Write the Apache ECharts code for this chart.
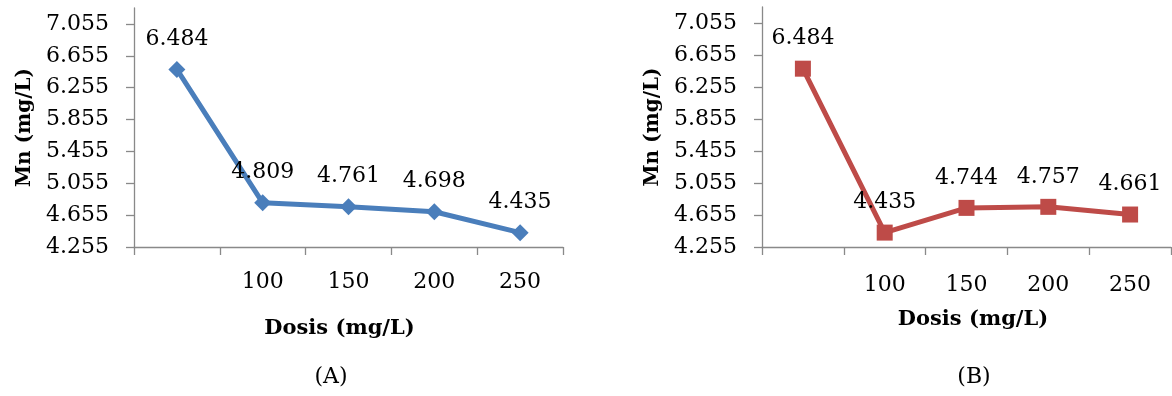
<!DOCTYPE html>
<html>
<head>
<meta charset="utf-8">
<script src="https://cdn.jsdelivr.net/npm/echarts@6/dist/echarts.min.js"></script>
<style>html,body{margin:0;padding:0;background:#fff}#c{width:1172px;height:396px}</style>
</head>
<body>
<div id="c"></div>
<script>
const categories = ['', '100', '150', '200', '250'];
const seriesA = [6.484, 4.809, 4.761, 4.698, 4.435];
const seriesB = [6.484, 4.435, 4.744, 4.757, 4.661];
const yTickLabels = ['4.255', '4.655', '5.055', '5.455', '5.855', '6.255', '6.655', '7.055'];
const yMin = 4.255, yMax = 7.255;
const xName = 'Dosis (mg/L)';
const yName = 'Mn (mg/L)';
const panelTitles = ['(A)', '(B)'];

const FONT = 'DejaVu Serif';
const AXIS_COLOR = '#898989';
const yVals = yTickLabels.map(Number);

function xAxis(idx, labelMargin, nameGap, namePad) {
  return {
    type: 'category', gridIndex: idx, data: categories, boundaryGap: true,
    axisLine: {show: true, lineStyle: {color: AXIS_COLOR, width: 1.3}},
    axisTick: {show: true, length: 8, lineStyle: {color: AXIS_COLOR, width: 1.3}},
    axisLabel: {color: '#000', fontFamily: FONT, fontSize: 22, margin: labelMargin},
    name: xName, nameLocation: 'middle', nameGap: nameGap,
    nameTextStyle: {color: '#000', fontFamily: FONT, fontWeight: 'bold', fontSize: 21, padding: namePad}
  };
}
function yAxis(idx) {
  return {
    type: 'value', gridIndex: idx, min: yMin, max: yMax,
    axisLine: {show: true, lineStyle: {color: AXIS_COLOR, width: 1.3}},
    axisTick: {show: true, length: 8, customValues: yVals, lineStyle: {color: AXIS_COLOR, width: 1.3}},
    axisLabel: {color: '#000', fontFamily: FONT, fontSize: 22, margin: 25, customValues: yVals,
      formatter: v => v.toFixed(3)},
    splitLine: {show: false},
    name: yName, nameLocation: 'middle', nameGap: 99,
    nameTextStyle: {color: '#000', fontFamily: FONT, fontWeight: 'bold', fontSize: 20}
  };
}
function series(idx, data, color, symbol, size) {
  return {
    type: 'line', xAxisIndex: idx, yAxisIndex: idx, data: data,
    symbol: symbol, symbolSize: size,
    lineStyle: {color: color, width: 5},
    itemStyle: {color: color},
    label: {show: true, position: 'top', distance: 11, color: '#000', fontFamily: FONT, fontSize: 22,
      formatter: p => p.value.toFixed(3)},
    animation: false
  };
}
const chart = echarts.init(document.getElementById('c'), null, {renderer: 'canvas'});
chart.setOption({
  animation: false,
  backgroundColor: '#fff',
  grid: [
    {left: 134, top: 8, width: 429, height: 239},
    {left: 762, top: 7, width: 409, height: 240}
  ],
  xAxis: [xAxis(0, 24, 71, [0, 18, 0, 0]), xAxis(1, 27, 62, [0, 0, 0, 13])],
  yAxis: [yAxis(0), yAxis(1)],
  title: [
    {text: panelTitles[0], left: 326, top: 361, textAlign: 'center',
      textStyle: {fontFamily: FONT, fontWeight: 'normal', fontSize: 22, color: '#000'}},
    {text: panelTitles[1], left: 969, top: 361, textAlign: 'center',
      textStyle: {fontFamily: FONT, fontWeight: 'normal', fontSize: 22, color: '#000'}}
  ],
  series: [
    series(0, seriesA, '#4A7EBB', 'diamond', 17),
    series(1, seriesB, '#BE4B48', 'rect', 16)
  ]
});
</script>
</body>
</html>
